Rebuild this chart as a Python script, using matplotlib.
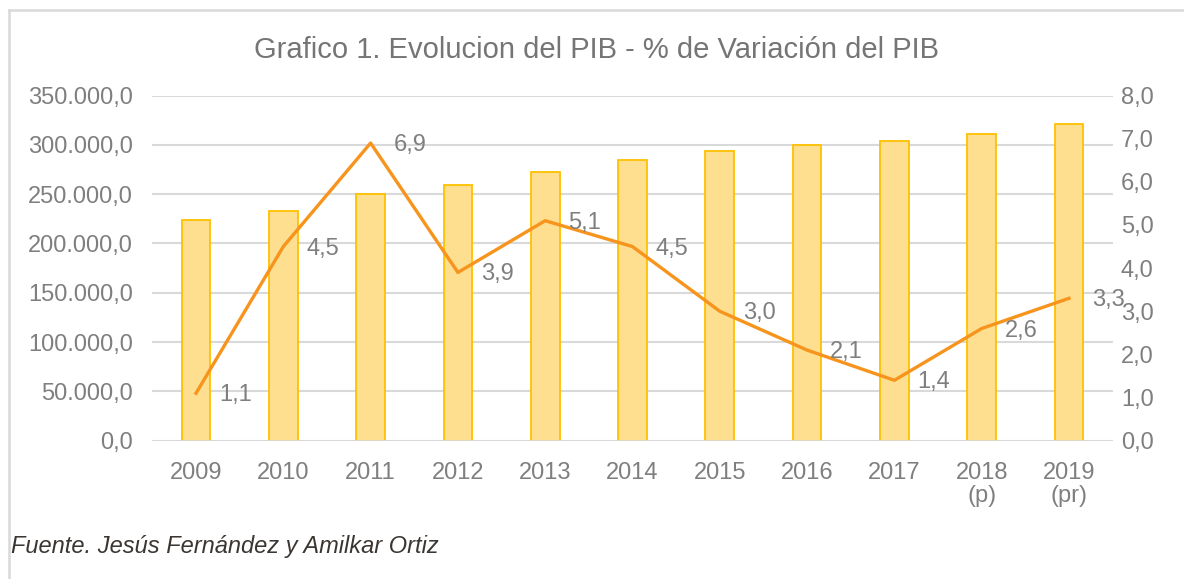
import matplotlib.pyplot as plt
from matplotlib.lines import Line2D
from matplotlib.ticker import FuncFormatter

plt.rcParams['font.family'] = ['Liberation Sans', 'DejaVu Sans']

# data
YEARS = ["2009", "2010", "2011", "2012", "2013", "2014", "2015", "2016",
         "2017", "2018\n(p)", "2019\n(pr)"]
PIB = [223400, 233300, 249700, 259500, 272300, 284800, 293500, 299600,
       303600, 311100, 321300]
VARIACION = [1.1, 4.5, 6.9, 3.9, 5.1, 4.5, 3.0, 2.1, 1.4, 2.6, 3.3]

GRAY_TXT = "#7F7F7F"
GRID = "#D9D9D9"
BAR_FILL = "#FEDF8F"
BAR_EDGE = "#FFC000"
LINE_C = "#F7941D"


def es_fmt(v, _pos=None):
    s = f"{v:,.1f}"
    return s.replace(",", "X").replace(".", ",").replace("X", ".")


fig = plt.figure(figsize=(11.84, 5.79), dpi=100)
ax = fig.add_axes([0.1287, 0.2389, 0.811, 0.596])
ax2 = ax.twinx()

x = list(range(len(YEARS)))
ax.bar(x, PIB, width=0.33, color=BAR_FILL, edgecolor=BAR_EDGE, linewidth=1.3, zorder=2)
ax.set_xlim(-0.5, len(YEARS) - 0.5)
ax.set_ylim(0, 350000)
ax.set_yticks(range(0, 350001, 50000))
ax.yaxis.set_major_formatter(FuncFormatter(es_fmt))
ax.grid(True, axis="y", color=GRID, linewidth=1.5, zorder=0)
ax.set_axisbelow(True)
ax.set_xticks(x)
ax.set_xticklabels(YEARS, linespacing=1.1)

ax2.plot(x, VARIACION, color=LINE_C, linewidth=2.4, zorder=3)
ax2.set_ylim(0, 8)
ax2.set_yticks([i * 1.0 for i in range(9)])
ax2.yaxis.set_major_formatter(FuncFormatter(lambda v, p: f"{v:.1f}".replace(".", ",")))

for xi, v in zip(x, VARIACION):
    ax2.annotate(f"{v:.1f}".replace(".", ","), (xi, v), xytext=(23, -2),
                 textcoords="offset pixels", ha="left", va="center",
                 fontsize=17, color=GRAY_TXT)

for a in (ax, ax2):
    for side in ("top", "left", "right", "bottom"):
        a.spines[side].set_visible(False)
    a.tick_params(length=0, labelsize=17, labelcolor=GRAY_TXT)
ax.tick_params(axis="y", pad=14)
ax.tick_params(axis="x", pad=15)
ax2.tick_params(axis="y", pad=6)
ax.axhline(0, color=GRID, linewidth=2, zorder=4)

fig.text(0.504, 0.9145, "Grafico 1. Evolucion del PIB - % de Variación del PIB",
         ha="center", va="center", fontsize=21, color="#757575")
fig.text(0.009, 0.056, "Fuente. Jesús Fernández y Amilkar Ortiz",
         ha="left", va="center", fontsize=17, style="italic", color="#3B3632")

# outer frame (only top and left edges are visible in the reference)
fig.add_artist(Line2D([0.0072, 1.0], [0.983, 0.983], transform=fig.transFigure,
                      color=GRID, linewidth=1.8))
fig.add_artist(Line2D([0.0072, 0.0072], [0.0, 0.983], transform=fig.transFigure,
                      color=GRID, linewidth=1.8))

fig.savefig("out.png", dpi=100)
